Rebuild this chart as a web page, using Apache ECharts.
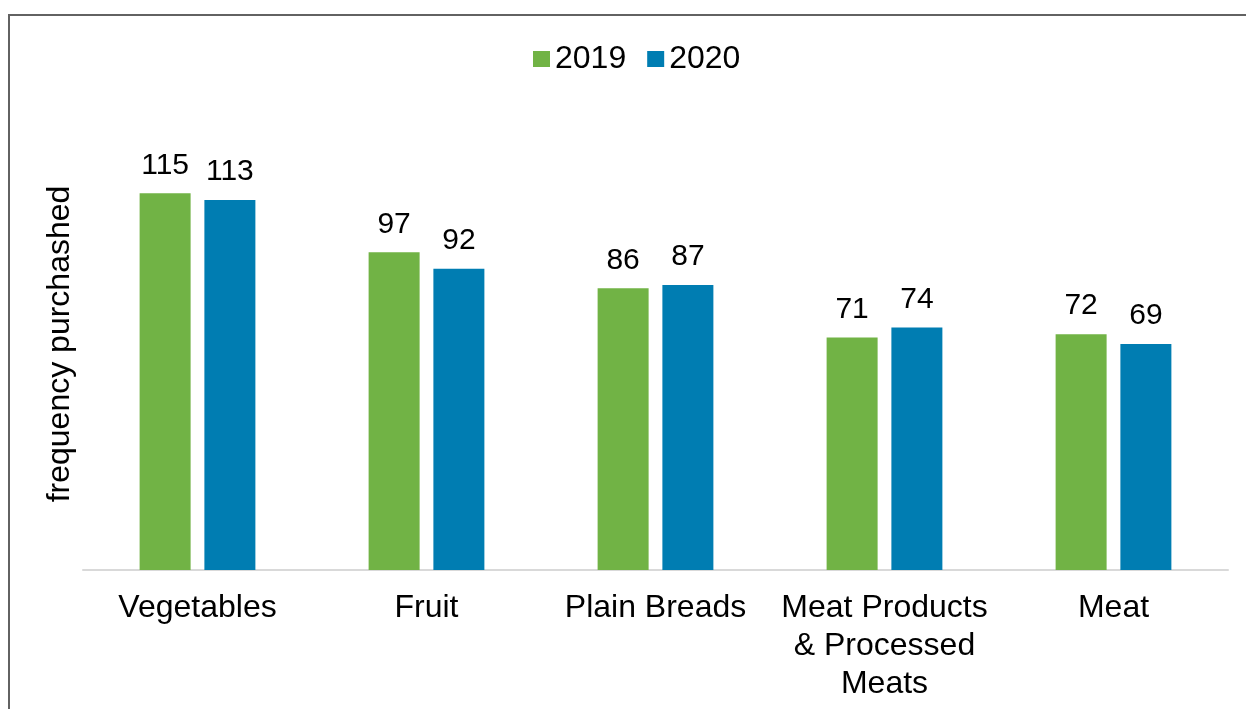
<!DOCTYPE html>
<html>
<head>
<meta charset="utf-8">
<script src="https://cdn.jsdelivr.net/npm/echarts@6/dist/echarts.min.js"></script>
<style>
html,body{margin:0;padding:0;background:#fff;}
#chart{width:1246px;height:709px;}
</style>
</head>
<body>
<div id="chart"></div>
<script>
const categories = ['Vegetables', 'Fruit', 'Plain Breads', 'Meat Products\n& Processed\nMeats', 'Meat'];
const seriesNames = ['2019', '2020'];
const values2019 = [115, 97, 86, 71, 72];
const values2020 = [113, 92, 87, 74, 69];
const yAxisTitle = 'frequency purchashed';

const FONT = "'Liberation Sans', Arial, sans-serif";
const chart = echarts.init(document.getElementById('chart'), null, {renderer: 'canvas'});
const labelStyle = {show: true, position: 'top', distance: 13, color: '#000', fontSize: 30, fontFamily: FONT};

chart.setOption({
  animation: false,
  backgroundColor: '#fff',
  graphic: [{
    type: 'rect',
    shape: {x: 9, y: 15, width: 1400, height: 900},
    style: {fill: 'none', stroke: '#626262', lineWidth: 2},
    silent: true
  }],
  legend: {
    data: seriesNames,
    left: 528,
    top: 38,
    itemWidth: 17,
    itemHeight: 16,
    itemGap: 21,
    icon: 'rect',
    textStyle: {fontSize: 32, color: '#000', fontFamily: FONT}
  },
  grid: {left: 83, right: 18, top: 118, bottom: 139, containLabel: false},
  xAxis: {
    type: 'category',
    data: categories,
    axisLine: {show: true, lineStyle: {color: '#d9d9d9', width: 2}},
    axisTick: {show: false},
    axisLabel: {color: '#000', fontSize: 32, fontFamily: FONT, lineHeight: 38, margin: 19, interval: 0}
  },
  yAxis: {
    type: 'value',
    min: 0,
    max: 138,
    name: yAxisTitle,
    nameLocation: 'middle',
    nameGap: 7,
    nameTextStyle: {color: '#000', fontSize: 32, fontFamily: FONT},
    axisLine: {show: false},
    axisTick: {show: false},
    axisLabel: {show: false},
    splitLine: {show: false}
  },
  series: [
    {name: seriesNames[0], type: 'bar', data: values2019, barWidth: 51, barGap: '27%',
     itemStyle: {color: '#71B345'}, label: labelStyle},
    {name: seriesNames[1], type: 'bar', data: values2020, barWidth: 51, barGap: '27%',
     itemStyle: {color: '#007DB2'}, label: labelStyle}
  ]
});
</script>
</body>
</html>
